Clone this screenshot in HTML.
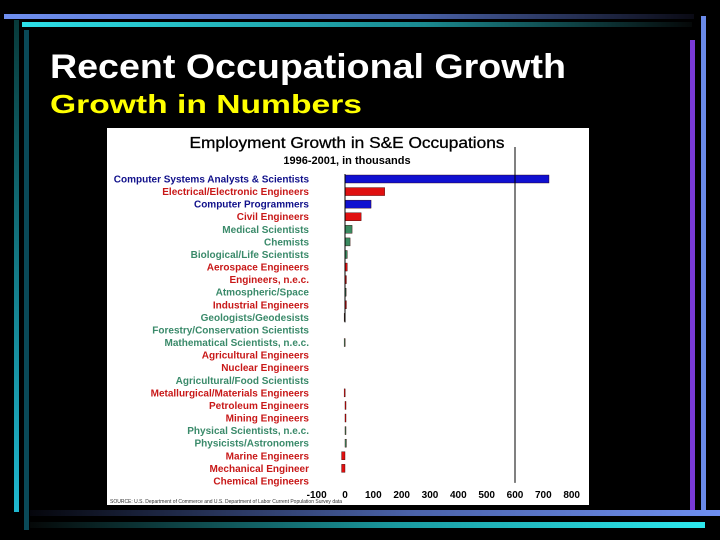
<!DOCTYPE html>
<html><head><meta charset="utf-8"><style>
html,body{margin:0;padding:0;background:#000;}
svg{display:block;font-family:"Liberation Sans",sans-serif;}
</style></head><body>
<svg id="s" width="720" height="540" viewBox="0 0 720 540">
<defs>
<linearGradient id="gTop" x1="0" x2="1"><stop offset="0" stop-color="#6f8ff0"/><stop offset="0.6" stop-color="#4a62a8"/><stop offset="1" stop-color="#0a0a14"/></linearGradient>
<linearGradient id="gTop2" x1="0" x2="1"><stop offset="0" stop-color="#2de0e8"/><stop offset="0.6" stop-color="#1a8a90"/><stop offset="1" stop-color="#050808"/></linearGradient>
<linearGradient id="gBot" x1="0" x2="1"><stop offset="0" stop-color="#05060c"/><stop offset="0.55" stop-color="#4a62a8"/><stop offset="1" stop-color="#6f8ff0"/></linearGradient>
<linearGradient id="gBot2" x1="0" x2="1"><stop offset="0" stop-color="#050808"/><stop offset="0.55" stop-color="#1a9aa0"/><stop offset="1" stop-color="#2de8ee"/></linearGradient>
<linearGradient id="gL" x1="0" y1="0" x2="0" y2="1"><stop offset="0" stop-color="#083a3a"/><stop offset="1" stop-color="#1fb8d0"/></linearGradient>
</defs>
<rect x="4" y="14" width="690" height="5" fill="url(#gTop)"/>
<rect x="22" y="22" width="670" height="5" fill="url(#gTop2)"/>
<rect x="14" y="20" width="5" height="492" fill="url(#gL)"/>
<rect x="24" y="30" width="5" height="500" fill="#0a4a58"/>
<rect x="690" y="40" width="5" height="470" fill="#7a3ad8"/>
<rect x="701" y="16" width="5" height="494" fill="#6a8ae8"/>
<rect x="30" y="510" width="690" height="6" fill="url(#gBot)"/>
<rect x="30" y="522" width="675" height="6" fill="url(#gBot2)"/>
<text x="50" y="78" fill="#fff" font-weight="bold" font-size="34" textLength="516" lengthAdjust="spacingAndGlyphs">Recent Occupational Growth</text>
<text x="50" y="113" fill="#ffff00" font-weight="bold" font-size="26" textLength="312" lengthAdjust="spacingAndGlyphs">Growth in Numbers</text>
<rect x="107" y="128" width="482" height="377" fill="#fff"/>
<text x="347" y="148" text-anchor="middle" font-size="16" stroke="#000" stroke-width="0.3" textLength="315" lengthAdjust="spacingAndGlyphs" fill="#000">Employment Growth in S&amp;E Occupations</text>
<text x="347" y="164" text-anchor="middle" font-size="11" font-weight="bold" fill="#000">1996-2001, in thousands</text>
<g id="plot"></g>
<text x="110" y="503" font-size="5" fill="#333">SOURCE: U.S. Department of Commerce and U.S. Department of Labor Current Population Survey data</text>
</svg>
<script>
const categories=["Computer Systems Analysts & Scientists","Electrical/Electronic Engineers","Computer Programmers","Civil Engineers","Medical Scientists","Chemists","Biological/Life Scientists","Aerospace Engineers","Engineers, n.e.c.","Atmospheric/Space","Industrial Engineers","Geologists/Geodesists","Forestry/Conservation Scientists","Mathematical Scientists, n.e.c.","Agricultural Engineers","Nuclear Engineers","Agricultural/Food Scientists","Metallurgical/Materials Engineers","Petroleum Engineers","Mining Engineers","Physical Scientists, n.e.c.","Physicists/Astronomers","Marine Engineers","Mechanical Engineer","Chemical Engineers"];
const groups=["c","e","c","e","s","s","s","e","e","s","e","s","s","s","e","e","s","e","e","e","s","s","e","e","e"];
const values=[720,140,92,57,25,18,8,8,5,4,5,-3,0,-3,0,0,0,-3,1,1,1,5,-12,-12,0];
const ticks=[-100,0,100,200,300,400,500,600,700,800];
const refLine=600;
const colors={c:"#1010d0",e:"#e01010",s:"#3a8a60"};
const labelColors={c:"#10108a",e:"#c81818",s:"#3a8a6a"};
const NS="http://www.w3.org/2000/svg";
const g=document.getElementById("plot");
const x=v=>345+v*(170/600);
const y=i=>179+i*12.58;
function mk(t,a){const e=document.createElementNS(NS,t);for(const k in a)e.setAttribute(k,a[k]);g.appendChild(e);return e;}
categories.forEach((c,i)=>{
  const t=mk("text",{x:309,y:y(i)+3.5,"text-anchor":"end","font-size":"10","font-weight":"bold",fill:labelColors[groups[i]]});
  t.textContent=c;
  
  
  const v=values[i];
  if(v!==0){
    const r=mk("rect",{x:Math.min(x(0),x(v)),y:y(i)-4,width:Math.max(1,Math.abs(x(v)-x(0))),height:8,fill:colors[groups[i]],stroke:"#300",["stroke-width"]:0.4});
    
    
  }
});
const zl=mk("line",{x1:x(0),x2:x(0),y1:y(0)-5,y2:y(11)+5,stroke:"#000","stroke-width":1});


const rl=mk("line",{x1:x(refLine),x2:x(refLine),y1:147,y2:y(24)+2,stroke:"#000","stroke-width":1});


ticks.forEach(t=>{
  const e=mk("text",{x:x(t),y:498,"text-anchor":"middle","font-size":"10","font-weight":"bold",fill:"#000"});
  e.textContent=t;
  
  
});
</script>
</body></html>
